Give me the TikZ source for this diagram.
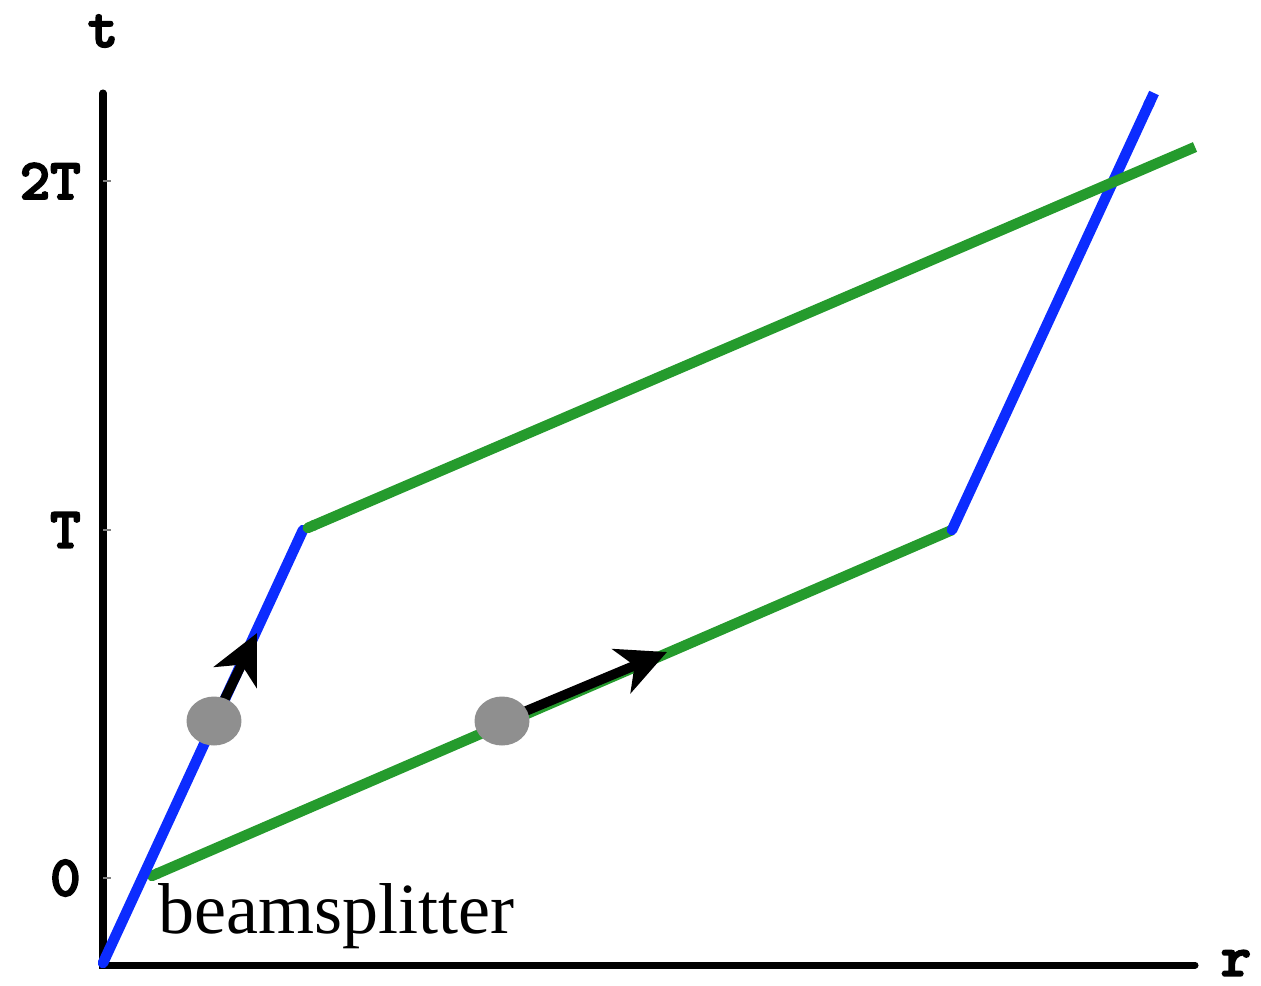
\documentclass[tikz,border=0pt]{standalone}
\usepackage{fontspec}
\setmainfont{Liberation Serif}
\newfontfamily\axisfont[FakeBold=3]{lmmonolt10-bold.otf}
\usetikzlibrary{arrows.meta,shapes.geometric}
\definecolor{slowblue}{RGB}{12,44,255}
\definecolor{fastgreen}{RGB}{37,155,45}
\definecolor{packetgray}{RGB}{143,143,143}
\begin{document}
\begin{tikzpicture}[x=0.02cm,y=-0.02cm]
\tikzstyle{every node}=[inner sep=0pt]
\tikzstyle{axislabel}=[font=\fontsize{33}{33}\selectfont\axisfont]
\tikzstyle{blueline}=[draw=slowblue,line width=6pt,line cap=round,line join=round]
\tikzstyle{greenline}=[draw=fastgreen,line width=6pt,line cap=butt,line join=round]
\tikzstyle{packet}=[ellipse,fill=packetgray,minimum width=1.1cm,minimum height=0.98cm]
\tikzstyle{kick}=[line width=5.5pt,-{Stealth[length=28pt,width=27pt,inset=8pt]}]
\useasboundingbox (0,0) rectangle (1261,985);
% axes
\coordinate (o) at (103,965);
\coordinate (ttop) at (103,93);
\coordinate (rend) at (1195,965);
\draw[line width=4pt,line cap=round] (ttop) -- (o) -- (rend);
\path (103,31) node[axislabel] (t) {t};
\path (1236,963) node[axislabel] (r) {r};
\foreach \y/\l/\n in {181/2T/two, 530/T/one, 878/0/zero}{
\draw[line width=0.6pt,gray] (103,\y) -- (111,\y);
\path (81,\y) node[axislabel,anchor=east] (\n) {\l};}
% paths
\coordinate (bs) at (147,878);
\coordinate (m1) at (303,530);
\coordinate (m2) at (952,530);
\coordinate (btop) at (1154,93);
\coordinate (gend) at (1195,147);
\draw[greenline,{Round Cap[]}-] (bs) -- (m2);
\draw[blueline] (103,963) -- (m1);
\draw[blueline,-{Butt Cap[]}] (m2) -- (btop);
\draw[greenline,{Round Cap[]}-] (m1) -- (gend);
% wave packets
\coordinate (tipA) at (257,633);
\coordinate (tipB) at (667,652);
\path (214,721) coordinate (cA) (502,721) coordinate (cB);
\draw[kick] (cA) -- (tipA);
\draw[kick] (cB) -- (tipB);
\path (cA) node[packet] (packetA) {};
\path (cB) node[packet] (packetB) {};
\path (158,933) node[anchor=base west,font=\fontsize{41}{41}\selectfont] (bslabel) {beamsplitter};
\end{tikzpicture}
\end{document}
